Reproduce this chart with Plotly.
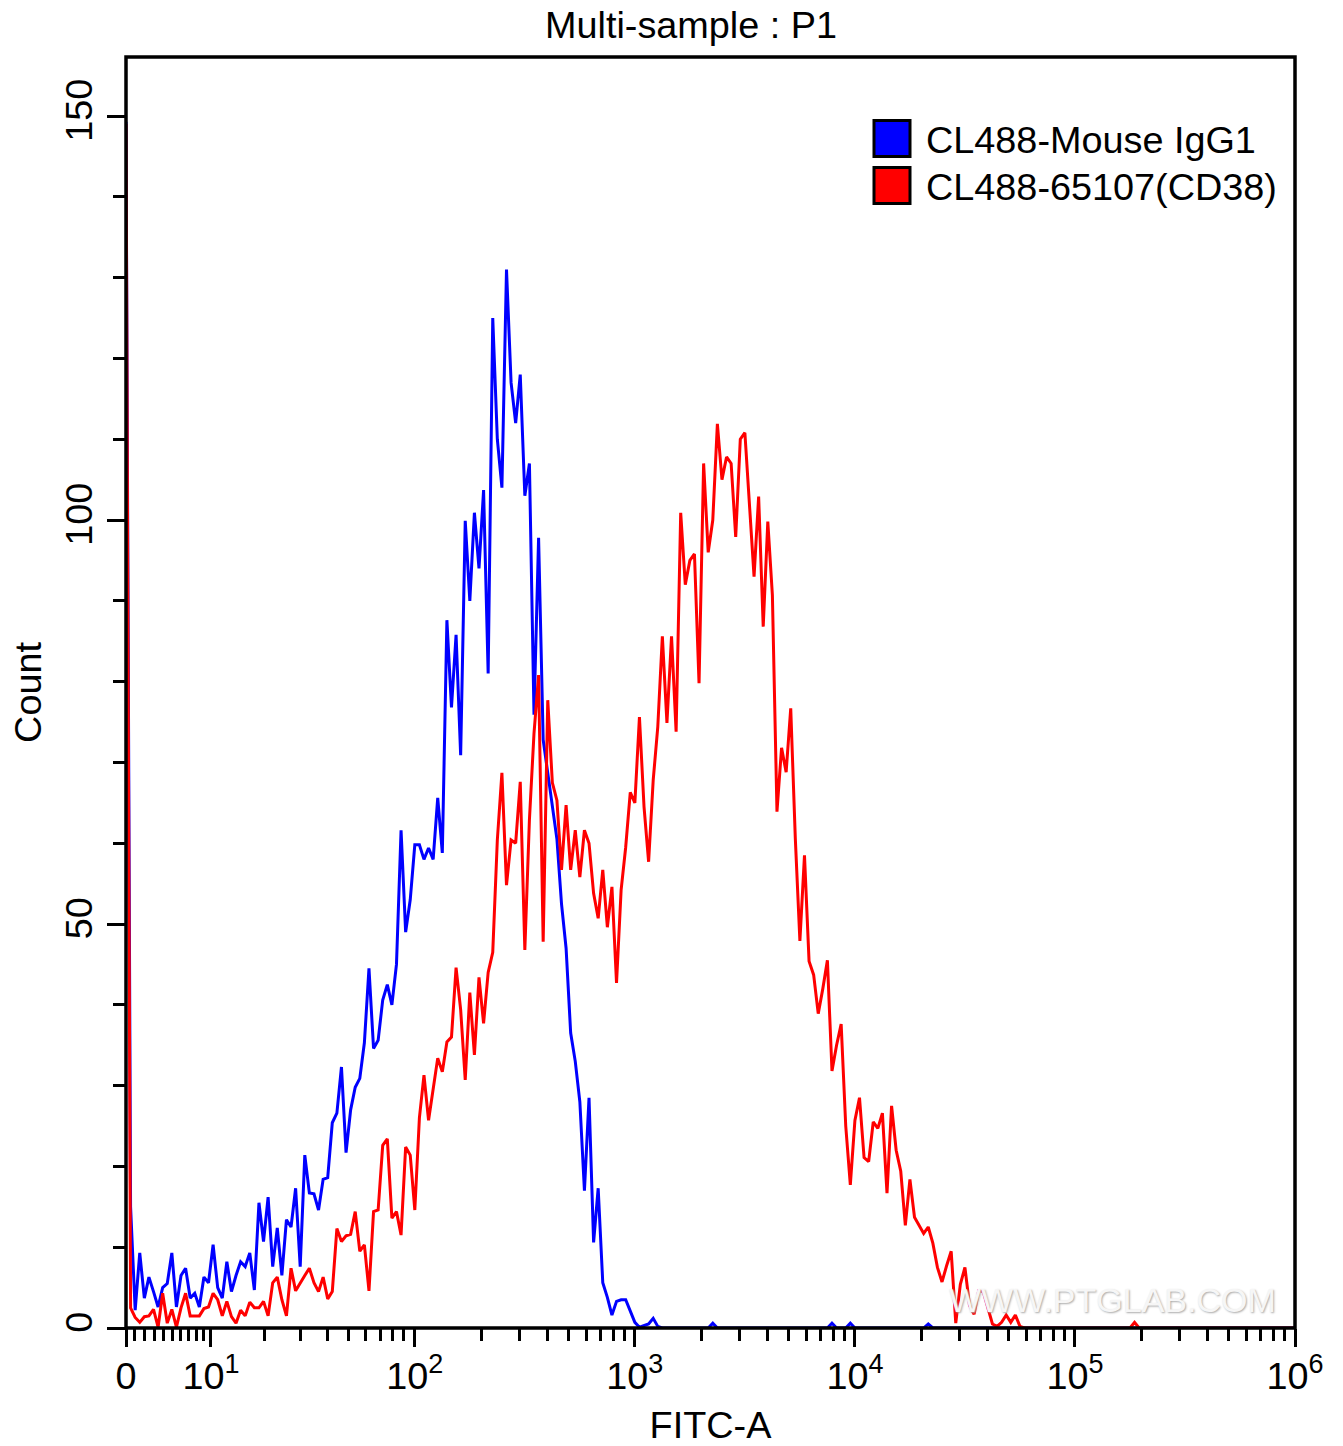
import numpy as np
import plotly.graph_objects as go

# counts per display channel (256 channels across the biexponential axis)
channels = list(range(256))
isotype_counts = [
    149.3, 15, 2.2, 9.3, 3.7, 6.3, 4.5, 2.6, 5, 5.5,
    9.3, 2.6, 6.5, 7.4, 3.7, 4.3, 2.6, 6.3, 5.6, 10.3,
    5, 3.7, 8.2, 4.5, 6.5, 8.2, 7.6, 9.3, 4.7, 15.5,
    10.7, 16.2, 7.6, 12.4, 6.5, 13.4, 12.5, 17.3, 7.6, 21.4,
    16.7, 16.6, 14.6, 18.4, 18.6, 25.4, 26.6, 32.3, 21.7, 27,
    29.8, 30.9, 35.3, 44.5, 34.6, 35.6, 40.6, 42.5, 40, 45,
    61.6, 49, 53, 59.8, 59.8, 58, 59.4, 58, 65.6, 58.8,
    87.6, 76.8, 85.8, 70.9, 99.9, 90, 100.9, 94, 103.7, 81,
    125, 110, 104, 131, 117, 112, 118, 103, 107, 75.9,
    97.8, 72.8, 68.7, 64.5, 60.5, 52.5, 47, 36.5, 33, 28,
    17, 28.5, 10.6, 17.3, 5.6, 3.8, 1.6, 3.3, 3.5, 3.5,
    2, 0.7, 0.1, 0.3, 0.5, 1.2, 0.2, 0, 0, 0,
    0, 0, 0, 0, 0, 0, 0, 0, 0.6, 0,
    0, 0, 0, 0, 0, 0, 0, 0, 0, 0,
    0, 0, 0, 0, 0, 0, 0, 0, 0, 0,
    0, 0, 0, 0, 0.6, 0, 0, 0, 0.6, 0,
    0, 0, 0, 0, 0, 0, 0, 0, 0, 0,
    0, 0, 0, 0, 0, 0.5, 0, 0, 0, 0,
    0, 0, 0, 0, 0, 0, 0, 0, 0, 0,
    0, 0, 0, 0, 0, 0, 0, 0, 0, 0,
    0, 0, 0, 0, 0, 0, 0, 0, 0, 0,
    0, 0, 0, 0, 0, 0, 0, 0, 0, 0,
    0, 0, 0, 0, 0, 0, 0, 0, 0, 0,
    0, 0, 0, 0, 0, 0, 0, 0, 0, 0,
    0, 0, 0, 0, 0, 0, 0, 0, 0, 0,
    0, 0, 0, 0, 0, 0,
]
cd38_counts = [
    149, 2.5, 1.3, 0.7, 1.4, 1.5, 2.3, 0.1, 4.3, 0.6,
    2.3, 0.1, 2.5, 4.3, 1.5, 1.5, 1.5, 2.4, 2.6, 4.3,
    3.5, 1.5, 3.3, 1.4, 0.6, 2.2, 1.5, 3.2, 2.5, 2.5,
    3.3, 1.5, 5.6, 6.3, 3.5, 1.5, 7.4, 4.6, 5.6, 6.5,
    7.4, 5.6, 4.5, 6.3, 3.6, 4.5, 12.3, 10.7, 11.4, 11.6,
    14.4, 9.5, 10.3, 4.6, 14.4, 14.6, 22.6, 23.4, 13.6, 14.4,
    11.5, 22.4, 21.4, 14.6, 26, 31.3, 25.7, 29.7, 33.4, 31.7,
    35.4, 36, 44.6, 39.4, 30.7, 41.5, 33.8, 43.4, 37.7, 44,
    46.5, 60.4, 68.7, 54.8, 60.4, 60, 67.6, 46.8, 62.9, 73.6,
    80.8, 47.8, 77.7, 67.5, 65.3, 56.7, 64.7, 56.7, 61.6, 55.8,
    61.6, 60, 53.8, 50.7, 56.7, 49.6, 54.6, 42.7, 54.2, 59.5,
    66.3, 65, 75.6, 64.5, 57.7, 67.8, 74.4, 85.6, 74.9, 85.6,
    73.8, 100.9, 92, 95, 95.8, 79.8, 107, 96, 100, 111.9,
    105, 107.8, 107, 97.9, 110, 110.8, 102, 93, 102.9, 86.8,
    99.8, 90.7, 63.9, 71.8, 68.8, 76.7, 60.6, 47.9, 58.5, 45.4,
    43.7, 38.9, 42, 45.5, 31.8, 35, 37.6, 25, 17.7, 25.7,
    28.5, 21.1, 20.6, 25.5, 24.7, 26.6, 16.7, 27.5, 22, 19.4,
    12.7, 18.4, 13.7, 12.7, 11.7, 12.5, 10.5, 7.5, 5.7, 7.7,
    9.5, 0.6, 5.4, 7.5, 2.8, 1.7, 4.6, 4.5, 2.4, 0.5,
    0.2, 0.7, 1.6, 0.7, 1.6, 0.2, 0, 0, 0, 0,
    0, 0, 0, 0, 0, 0, 0, 0, 0, 0,
    0, 0, 0, 0, 0, 0, 0, 0, 0, 0,
    0.7, 0, 0, 0, 0, 0, 0, 0, 0, 0,
    0, 0, 0, 0, 0, 0, 0, 0, 0, 0,
    0, 0, 0, 0, 0, 0, 0, 0, 0, 0,
    0, 0, 0, 0, 0, 0,
]
series_names = ['CL488-Mouse IgG1', 'CL488-65107(CD38)']
series_colors = ['#0000FF', '#FF0000']

# axis ticks, x positions are display channels
x_major_vals = [0, 18.54, 63, 111, 159, 207, 255]
x_major_text = ['0'] + ['10<sup><span style="font-size:27px">%d</span></sup>' % i for i in range(1, 7)]
x_minor_low = [1.96, 3.99, 6.11, 8.14, 10.1, 11.8, 13.6, 15.3, 16.9,
               30.3, 38.1, 43.9, 48.5, 52.2, 55.5, 58.1, 60.6]
y_major_vals = [0, 50, 100, 150]

W, H = 1343, 1446
LEFT, RIGHT, TOP, BOTTOM = 126, 1295, 57, 1328
FONT = 'Liberation Sans'
FS = 37.8

x_minor_vals = list(x_minor_low)
for start in x_major_vals[2:-1]:
    x_minor_vals += [start + 48 * np.log10(n) for n in range(2, 10)]


def px(x):
    return (x - LEFT) / (RIGHT - LEFT)


def py(y):
    return (BOTTOM - y) / (BOTTOM - TOP)


fig = go.Figure()
for counts, name, color in zip([isotype_counts, cd38_counts], series_names, series_colors):
    fig.add_trace(go.Scatter(x=channels, y=counts, name=name, mode='lines',
                             line=dict(color=color, width=3), showlegend=False, hoverinfo='skip'))

# frame as a shape so it sits over the traces and hides the zero runs
fig.add_shape(type='rect', xref='paper', yref='paper', x0=0, x1=1, y0=0, y1=1, line=dict(color='black', width=3.5))

# legend is square swatches with a black edge
for i, (name, color) in enumerate(zip(series_names, series_colors)):
    top = 120.5 + i * 47
    fig.add_shape(type='rect', xref='paper', yref='paper', x0=px(874), x1=px(910), y0=py(top + 36), y1=py(top),
                  fillcolor=color, line=dict(color='black', width=3))
    fig.add_annotation(xref='paper', yref='paper', x=px(924), y=py(top + 19.5), text=name, showarrow=False,
                       xanchor='left', yanchor='middle', font=dict(family=FONT, size=FS, color='black'))

fig.add_annotation(xref='paper', yref='paper', x=px(1112), y=py(1300), text='WWW.PTGLAB.COM', showarrow=False,
                   xanchor='center', yanchor='middle',
                   font=dict(family=FONT, size=34, color='#f6f6f6', shadow='1px 1px 2px #aaaaaa'))

fig.update_layout(
    width=W, height=H, margin=dict(l=LEFT, r=W - RIGHT, t=TOP, b=H - BOTTOM),
    paper_bgcolor='white', plot_bgcolor='white',
    font=dict(family=FONT, size=FS, color='black'),
    title=dict(text='Multi-sample : P1', x=px(691), xref='paper', xanchor='center', y=1 - 25 / H, yanchor='middle',
               font=dict(family=FONT, size=FS, color='black')),
    xaxis=dict(range=[0, 255], tickmode='array', tickvals=x_major_vals, ticktext=x_major_text,
               ticks='outside', ticklen=18, tickwidth=3, tickcolor='black', tickangle=0,
               showline=False, showgrid=False, zeroline=False, automargin=False, ticklabelstandoff=-3,
               title=dict(text='FITC-A', standoff=15, font=dict(family=FONT, size=FS, color='black')),
               minor=dict(tickmode='array', tickvals=x_minor_vals, ticks='outside', ticklen=12, tickwidth=2.5,
                          tickcolor='black', showgrid=False)),
    yaxis=dict(range=[0, (BOTTOM - TOP) / 8.08], tickmode='array', tickvals=y_major_vals,
               ticks='outside', ticklen=18, tickwidth=3, tickcolor='black', tickangle=-90,
               showline=False, showgrid=False, zeroline=False, automargin=False,
               title=dict(text='Count', standoff=4, font=dict(family=FONT, size=FS, color='black')),
               minor=dict(dtick=10, tick0=0, ticks='outside', ticklen=12, tickwidth=2.5,
                          tickcolor='black', showgrid=False)),
)

fig.write_html("out.html", config={'displayModeBar': False}, post_script="document.body.style.margin='0';")
